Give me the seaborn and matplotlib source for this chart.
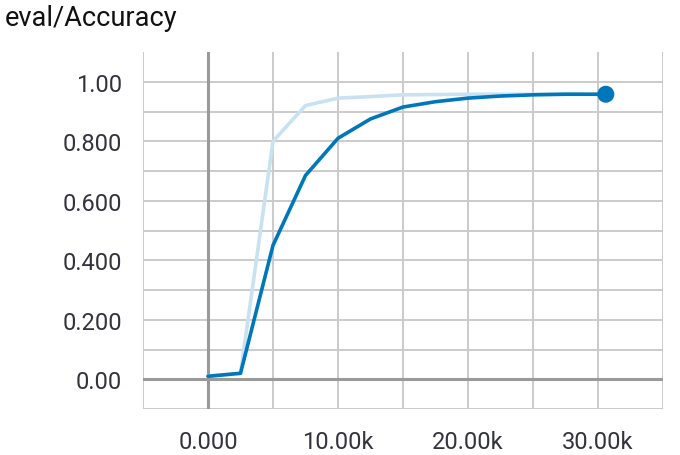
import numpy as np
import pandas as pd
import seaborn as sns
import matplotlib.pyplot as plt

# eval/Accuracy curve
steps = [0, 2500, 5000, 7500, 10000, 12500, 15000, 17500, 20000, 22500, 25000, 27500, 30600]
raw_acc = [0.010, 0.020, 0.800, 0.920, 0.945, 0.950, 0.956, 0.957, 0.958, 0.958, 0.958, 0.959, 0.958]
smooth_acc = [0.010, 0.020, 0.450, 0.685, 0.810, 0.875, 0.915, 0.933, 0.945, 0.952, 0.956, 0.958, 0.958]

x_ticks = [-5000, 0, 5000, 10000, 15000, 20000, 25000, 30000, 35000]
x_labels = ['', '0.000', '', '10.00k', '', '20.00k', '', '30.00k', '']
y_ticks = [-0.1, 0.0, 0.1, 0.2, 0.3, 0.4, 0.5, 0.6, 0.7, 0.8, 0.9, 1.0]
y_labels = ['', '0.00', '', '0.200', '', '0.400', '', '0.600', '', '0.800', '', '1.00']

df = pd.DataFrame({'step': steps, 'raw': raw_acc, 'smooth': smooth_acc})

sns.set_style('white')
plt.rcParams['font.family'] = ['Roboto', 'DejaVu Sans']

blue = '#0077bb'
grid_c = '#cbcbcb'
text_c = '#33333d'

fig = plt.figure(figsize=(6.8, 4.56), dpi=100)
ax = fig.add_axes([143 / 680, 46 / 456, 520 / 680, 357 / 456])

sns.lineplot(data=df, x='step', y='raw', ax=ax, color='#c9e2f1', linewidth=2.6, zorder=3)
sns.lineplot(data=df, x='step', y='smooth', ax=ax, color=blue, linewidth=2.6, zorder=4)
sns.scatterplot(x=[steps[-1]], y=[smooth_acc[-1]], ax=ax, color=blue, s=150,
                edgecolor='none', zorder=5)

ax.set_xlim(-5000, 35000)
ax.set_ylim(-0.1, 1.1)
ax.set_xticks(x_ticks)
ax.set_xticklabels(x_labels)
ax.set_yticks(y_ticks)
ax.set_yticklabels(y_labels)

ax.grid(True, color=grid_c, linewidth=1.4)
ax.axhline(0, color='#9a9a9a', linewidth=2.2, zorder=2)
ax.axvline(0, color='#9a9a9a', linewidth=2.2, zorder=2)
for s in ax.spines.values():
    s.set_visible(False)

ax.tick_params(axis='both', length=7, width=1.4, color=grid_c,
               labelsize=17, labelcolor=text_c, pad=8)
ax.set_xlabel('')
ax.set_ylabel('')

fig.text(5 / 680, 1 - 19 / 456, 'eval/Accuracy', fontsize=19.5, color='#111111',
         va='center', ha='left')

fig.savefig('out.png', dpi=100)
